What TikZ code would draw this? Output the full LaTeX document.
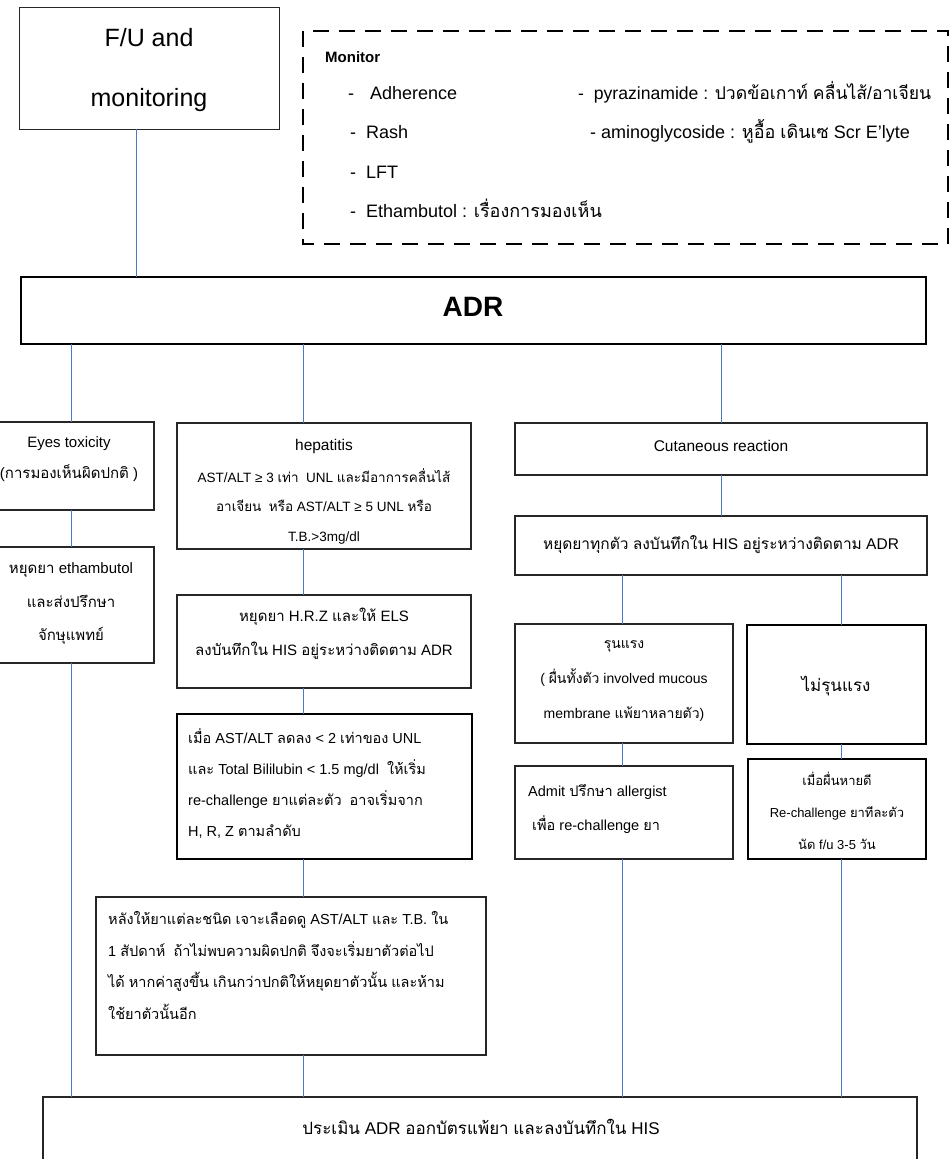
\documentclass[tikz,border=0pt]{standalone}
\usepackage{fontspec}
\setmainfont{Liberation Sans}
\newfontfamily\thaifont[Script=Thai]{Loma}
% switch to the Thai family automatically for characters U+0E00--U+0E7F
\XeTeXinterchartokenstate=1
\newXeTeXintercharclass\thaiclass
\count255="0E00
\loop\XeTeXcharclass\count255=\thaiclass\relax\ifnum\count255<"0E7F \advance\count255 by 1 \repeat
\XeTeXinterchartoks 0 \thaiclass = {\thaifont}
\XeTeXinterchartoks 4095 \thaiclass = {\thaifont}
\XeTeXinterchartoks \thaiclass 0 = {\rmfamily}
\XeTeXinterchartoks \thaiclass 4095 = {\rmfamily}

\definecolor{linkblue}{RGB}{74,122,196}
\newcommand\fs[2]{\fontsize{#1}{#2}\selectfont}
% box given by its corners: \pbox[style]{name}{x1}{y1}{x2}{y2}
\newcommand\pbox[6][]{\node[box,#1,minimum width={#5-#3},minimum height={#6-#4}] (#2) at ({(#3+#5)/2},{(#4+#6)/2}) {};}

\begin{document}
\begin{tikzpicture}[x=1pt,y=-1pt,
  box/.style={draw=black!85,line width=1.1pt,fill=white,inner sep=0pt,outer sep=0pt},
  thickbox/.style={line width=2pt,draw=black},
  dashbox/.style={draw=black,line width=2.6pt,dash pattern=on 16pt off 10pt,inner sep=0pt},
  conn/.style={draw=linkblue,line width=1pt},
  txt/.style={inner sep=0pt,align=center,text=black},
  ltxt/.style={inner sep=0pt,align=left,text=black,anchor=west},
  item/.style={inner sep=0pt,anchor=base west,text=black,font=\fs{18}{22}}]
\useasboundingbox (0,0) rectangle (949,1159);

% column positions of the vertical connectors
\coordinate (colF) at (136,0);
\coordinate (colE) at (71,0);
\coordinate (colH) at (303,0);
\coordinate (colC) at (721,0);
\coordinate (colS) at (622,0);
\coordinate (colM) at (841,0);

% boxes
\pbox[line width=1pt]{fu}{19}{7}{279}{129}
\pbox[draw=none,fill=none]{mon}{303}{31}{948}{244}
\pbox[thickbox]{adr}{21}{277}{926}{344}
\pbox{eyes}{-12}{422}{154}{510}
\pbox{eyestop}{-12}{547}{154}{663}
\pbox{hep}{177}{423}{471}{549}
\pbox{hrz}{177}{595}{471}{688}
\pbox[line width=1.5pt,draw=black]{rech}{177}{714}{472}{859}
\pbox{after}{96}{897}{486}{1055}
\pbox{cut}{515}{423}{927}{475}
\pbox{stopall}{515}{516}{927}{575}
\pbox{severe}{515}{624}{733}{743}
\pbox[line width=1.5pt,draw=black]{mild}{747}{625}{926}{744}
\pbox{admit}{515}{766}{733}{859}
\pbox[line width=1.5pt,draw=black]{refu}{748}{759}{926}{859}
\pbox{final}{43}{1097}{917}{1175}

% dashed monitor frame
\draw[dashbox] (mon.north west) rectangle (mon.south east);

% connectors
\draw[conn] (fu.south -| colF) -- (adr.north -| colF);
\draw[conn] (adr.south -| colE) -- (eyes.north -| colE);
\draw[conn] (eyes.south -| colE) -- (eyestop.north -| colE);
\draw[conn] (eyestop.south -| colE) -- (final.north -| colE);
\draw[conn] (adr.south -| colH) -- (hep.north -| colH);
\draw[conn] (hep.south -| colH) -- (hrz.north -| colH);
\draw[conn] (hrz.south -| colH) -- (rech.north -| colH);
\draw[conn] (rech.south -| colH) -- (after.north -| colH);
\draw[conn] (after.south -| colH) -- (final.north -| colH);
\draw[conn] (adr.south -| colC) -- (cut.north -| colC);
\draw[conn] (cut.south -| colC) -- (stopall.north -| colC);
\draw[conn] (stopall.south -| colS) -- (severe.north -| colS);
\draw[conn] (severe.south -| colS) -- (admit.north -| colS);
\draw[conn] (admit.south -| colS) -- (final.north -| colS);
\draw[conn] (stopall.south -| colM) -- (mild.north -| colM);
\draw[conn] (mild.south -| colM) -- (refu.north -| colM);
\draw[conn] (refu.south -| colM) -- (final.north -| colM);

% texts
\node[txt,font=\fs{25}{60}] (fuT) at (149,70) {F/U and\\monitoring};

\node[item,font=\fs{15}{18}\bfseries] (monT) at (325,62) {Monitor};
\node[item] (m1a) at (348,99) {-};
\node[item] (m1b) at (370,99) {Adherence};
\node[item] (m2) at (350,138) {-\ \ Rash};
\node[item] (m3) at (350,178) {-\ \ LFT};
\node[item] (m4) at (350,217) {-\ \ Ethambutol : เรื่องการมองเห็น};
\node[item,font=\fs{17.6}{22}] (m5) at (578,99) {-\ \ pyrazinamide : ปวดข้อเกาท์ คลื่นไส้/อาเจียน};
\node[item] (m6) at (590,138) {- aminoglycoside : หูอื้อ เดินเซ Scr E'lyte};

\node[txt,font=\fs{28}{30}\bfseries] (adrT) at (473,307) {ADR};

\node[txt,font=\fs{15}{31}] (eyesT) at (69,459.5) {Eyes toxicity\\(การมองเห็นผิดปกติ )};
\node[txt,font=\fs{15}{33.5}] (eyestopT) at (71,604) {หยุดยา ethambutol\\และส่งปรึกษา\\จักษุแพทย์};

\node[txt,font=\fs{15.5}{30}] (hepT1) at (324,446) {hepatitis};
\node[txt,font=\fs{13.5}{29.5}] (hepT2) at (324,506) {AST/ALT ≥ 3 เท่า\ \ UNL และมีอาการคลื่นไส้\\อาเจียน\ \ หรือ AST/ALT ≥ 5 UNL หรือ\\T.B.>3mg/dl};
\node[txt,font=\fs{15}{34}] (hrzT) at (324,634) {หยุดยา H.R.Z และให้ ELS\\ลงบันทึกใน HIS อยู่ระหว่างติดตาม ADR};
\node[ltxt,font=\fs{14.5}{31}] (rechT) at (188,783.5) {เมื่อ AST/ALT ลดลง < 2 เท่าของ UNL\\และ Total Bililubin < 1.5 mg/dl\ \ ให้เริ่ม\\re-challenge ยาแต่ละตัว\ \ อาจเริ่มจาก\\H, R, Z ตามลำดับ};
\node[ltxt,font=\fs{14.5}{31.5}] (afterT) at (108,965.5) {หลังให้ยาแต่ละชนิด เจาะเลือดดู AST/ALT และ T.B. ใน\\1 สัปดาห์\ \ ถ้าไม่พบความผิดปกติ จึงจะเริ่มยาตัวต่อไป\\ได้ หากค่าสูงขึ้น เกินกว่าปกติให้หยุดยาตัวนั้น และห้าม\\ใช้ยาตัวนั้นอีก};

\node[txt,font=\fs{15.5}{30}] (cutT) at (721,446) {Cutaneous reaction};
\node[txt,font=\fs{15.5}{30}] (stopallT) at (721,545) {หยุดยาทุกตัว ลงบันทึกใน HIS อยู่ระหว่างติดตาม ADR};
\node[txt,font=\fs{14}{35}] (severeT) at (624,681) {รุนแรง\\( ผื่นทั้งตัว involved mucous\\membrane แพ้ยาหลายตัว)};
\node[txt,font=\fs{17}{30}] (mildT) at (836,686) {ไม่รุนแรง};
\node[ltxt,font=\fs{14.5}{34}] (admitT) at (528,809) {Admit ปรึกษา allergist\\\ เพื่อ re-challenge ยา};
\node[txt,font=\fs{13}{32}] (refuT) at (837,811) {เมื่อผื่นหายดี\\Re-challenge ยาทีละตัว\\นัด f/u 3-5 วัน};

\node[txt,font=\fs{17}{30}] (finalT) at (481,1127) {ประเมิน ADR ออกบัตรแพ้ยา และลงบันทึกใน HIS};
\end{tikzpicture}
\end{document}
